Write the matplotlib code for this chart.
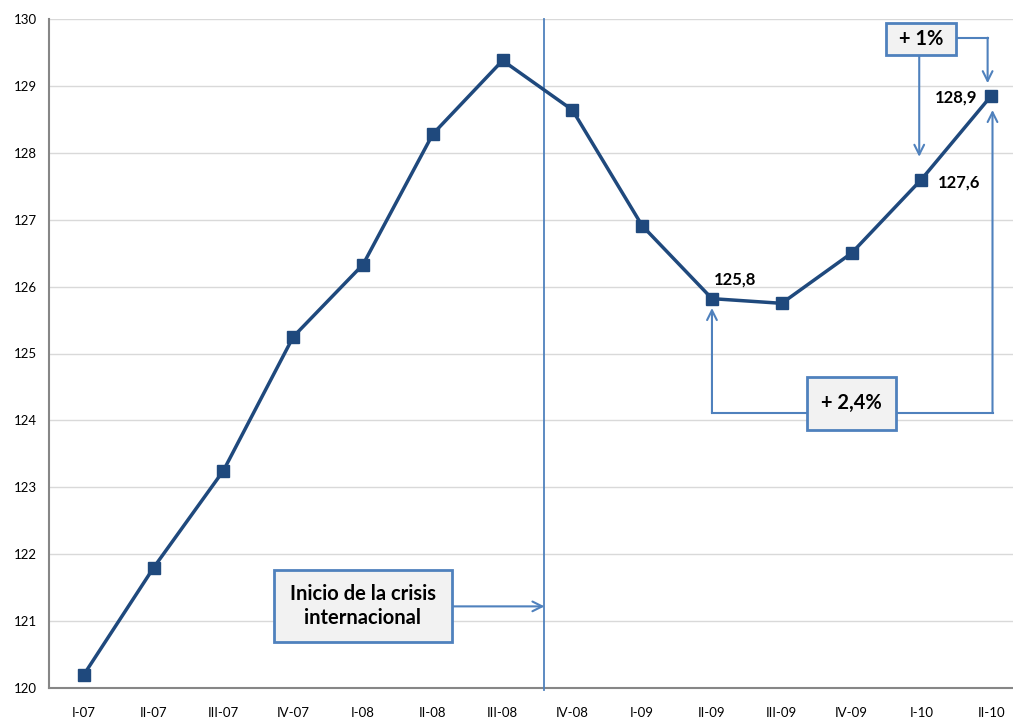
import matplotlib
matplotlib.use("Agg")
import matplotlib.pyplot as plt
from matplotlib.patches import Rectangle

plt.rcParams['font.family'] = ['Lato', 'DejaVu Sans']

quarters = ["I-07", "II-07", "III-07", "IV-07", "I-08", "II-08", "III-08", "IV-08",
            "I-09", "II-09", "III-09", "IV-09", "I-10", "II-10"]
values = [120.2, 121.8, 123.25, 125.25, 126.33, 128.28, 129.38, 128.64,
          126.91, 125.82, 125.75, 126.5, 127.6, 128.85]
value_labels = {9: "125,8", 12: "127,6", 13: "128,9"}
yticks = [120, 121, 122, 123, 124, 125, 126, 127, 128, 129, 130]

W, H = 1013, 718
fig = plt.figure(figsize=(W / 100, H / 100), dpi=100)
left, right, top, bottom = 49, 1026, 19, 688
ax = fig.add_axes([left / W, (H - bottom) / H, (right - left) / W, (bottom - top) / H])

x = list(range(len(quarters)))
ax.set_xlim(-0.5, len(quarters) - 0.5)
ax.set_ylim(120, 130)

ax.set_yticks(yticks)
ax.set_yticklabels([str(t) for t in yticks], fontsize=9.5)
ax.set_xticks(x)
ax.set_xticklabels(quarters, fontsize=9.5)
ax.tick_params(axis='both', length=0)
ax.tick_params(axis='x', pad=14)
ax.tick_params(axis='y', pad=9)
ax.grid(axis='y', color='#d9d9d9', lw=1)
ax.set_axisbelow(True)
for s in ['top', 'right']:
    ax.spines[s].set_visible(False)
for s in ['left', 'bottom']:
    ax.spines[s].set_color('#868686')
    ax.spines[s].set_linewidth(1.5)

line_col = '#1f497d'
ax.plot(x, values, color=line_col, lw=2.5, marker='s', markersize=8.5,
        markerfacecolor=line_col, markeredgecolor=line_col, zorder=5)

# value labels
ax.text(9.03, 126.1, value_labels[9], fontsize=12, fontweight='bold', ha='left', va='center')
ax.text(12.23, 127.56, value_labels[12], fontsize=12, fontweight='bold', ha='left', va='center')
ax.text(12.81, 128.83, value_labels[13], fontsize=12, fontweight='bold', ha='right', va='center')

ann = '#4f81bd'
# vertical crisis line
ax.plot([6.6, 6.6], [120 - 0.03, 130], color=ann, lw=1.3, clip_on=False, zorder=3)

def box(x0, x1, y0, y1, text, fs):
    ax.add_patch(Rectangle((x0, y0), x1 - x0, y1 - y0, facecolor='#f2f2f2',
                           edgecolor=ann, lw=2, zorder=6))
    ax.text((x0 + x1) / 2, (y0 + y1) / 2, text, fontsize=fs, fontweight='bold',
            ha='center', va='center', zorder=7, linespacing=1.2)

arrow_kw = dict(arrowstyle='->,head_length=0.7,head_width=0.35', color=ann, lw=1.5,
                shrinkA=0, shrinkB=0)

# crisis box
box(2.72, 5.27, 120.69, 121.76, "Inicio de la crisis\ninternacional", 14.5)
ax.annotate('', xy=(6.6, 121.22), xytext=(5.27, 121.22), arrowprops=arrow_kw, zorder=4)

# +2,4% box
ax.plot([10.36, 9.0], [124.11, 124.11], color=ann, lw=1.5, zorder=4)
ax.annotate('', xy=(9.0, 125.68), xytext=(9.0, 124.11), arrowprops=arrow_kw, zorder=4)
ax.plot([11.63, 13.02], [124.11, 124.11], color=ann, lw=1.5, zorder=4)
ax.annotate('', xy=(13.02, 128.64), xytext=(13.02, 124.11), arrowprops=arrow_kw, zorder=4)
box(10.36, 11.63, 123.86, 124.65, "+ 2,4%", 14.5)

# +1% box
ax.annotate('', xy=(11.97, 127.94), xytext=(11.97, 129.46), arrowprops=arrow_kw, zorder=4)
ax.plot([12.49, 12.95], [129.72, 129.72], color=ann, lw=1.5, zorder=4)
ax.annotate('', xy=(12.95, 129.04), xytext=(12.95, 129.72), arrowprops=arrow_kw, zorder=4)
box(11.5, 12.49, 129.46, 129.94, "+ 1%", 14.5)

fig.savefig("out.png", dpi=100)
